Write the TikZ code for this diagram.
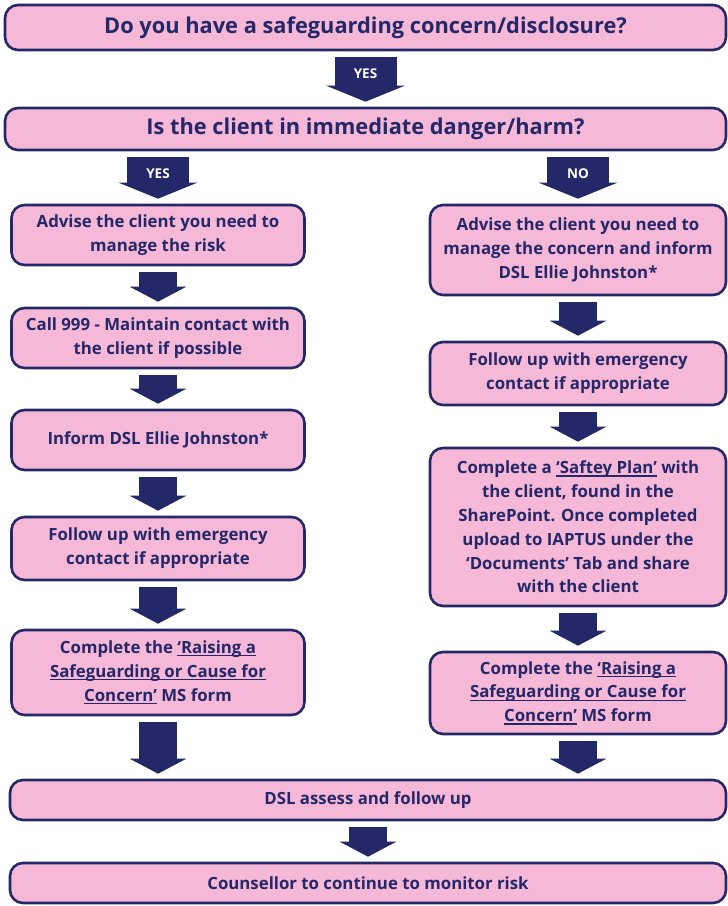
\documentclass[tikz,border=0pt]{standalone}
\usepackage{fontspec}
\setmainfont{Open Sans}
\usepackage{xcolor}
\usepackage{tikz}
\usetikzlibrary{arrows.meta,calc,positioning}
\definecolor{navy}{RGB}{37,40,104}
\definecolor{pinkbox}{RGB}{245,184,214}
% underlined form names
\newcommand{\ulnk}[1]{\leavevmode\setbox0\hbox{#1}\rlap{\rule[-2.8pt]{\wd0}{1.2pt}}\box0\relax}

\begin{document}
\begin{tikzpicture}[x=1pt,y=-1pt,
  box/.style={draw=navy,fill=pinkbox,line width=2.6pt,rounded corners=13pt,
    text=navy,align=center,inner sep=0pt,
    font=\bfseries\fontsize{16.8}{23.8}\selectfont},
  bigbox/.style={box,font=\bfseries\fontsize{21.8}{24}\selectfont},
  blk/.style={draw=navy,line width=38pt,-{Triangle[width=56pt,length=15pt]},
    shorten <=6pt,shorten >=5pt},
  wideblk/.style={blk,line width=62pt,-{Triangle[width=78pt,length=16pt]}},
  yes/.style={text=white,font=\bfseries\fontsize{13.5}{13.5}\selectfont}]
\useasboundingbox[fill=white] (0,0) rectangle (728,906);
% questions
\node[bigbox,minimum width=721pt,minimum height=45pt] (Q1) at (365.5,27.5)
  {Do you have a safeguarding concern/disclosure?};
\node[bigbox,minimum width=721pt,minimum height=42pt] (Q2) at (365.5,129)
  {Is the client in immediate danger/harm?};
% yes branch
\node[box,minimum width=293pt,minimum height=60pt] (L1) at (158,235)
  {Advise the client you need to\\manage the risk};
\node[box,minimum width=293pt,minimum height=60pt] (L2) at (158,338)
  {Call 999 - Maintain contact with\\the client if possible};
\node[box,minimum width=293pt,minimum height=60pt] (L3) at (158,440)
  {Inform DSL Ellie Johnston*};
\node[box,minimum width=293pt,minimum height=63pt] (L4) at (158,548.5)
  {Follow up with emergency\\contact if appropriate};
\node[box,minimum width=293pt,minimum height=85pt] (L5) at (158,672.5)
  {Complete the \ulnk{‘Raising a}\\\ulnk{Safeguarding or Cause for}\\\ulnk{Concern’} MS form};
% no branch
\node[box,minimum width=296pt,minimum height=90pt] (R1) at (578,250)
  {Advise the client you need to\\manage the concern and inform\\DSL Ellie Johnston*};
\node[box,minimum width=296pt,minimum height=63pt] (R2) at (578,373.5)
  {Follow up with emergency\\contact if appropriate};
\node[box,minimum width=296pt,minimum height=158pt] (R3) at (578,527)
  {Complete a \ulnk{‘Saftey Plan’} with\\the client, found in the\\SharePoint. Once completed\\upload to IAPTUS under the\\‘Documents’ Tab and share\\with the client};
\node[box,minimum width=296pt,minimum height=82pt] (R4) at (578,693)
  {Complete the \ulnk{‘Raising a}\\\ulnk{Safeguarding or Cause for}\\\ulnk{Concern’} MS form};
% end
\node[box,minimum width=716pt,minimum height=40pt] (D1) at (368,800)
  {DSL assess and follow up};
\node[box,minimum width=716pt,minimum height=40pt] (D2) at (368,883)
  {Counsellor to continue to monitor risk};
% arrows
\draw[wideblk] (Q1.south) -- node[yes,pos=0.4]{YES} (Q1.south |- Q2.north);
\draw[wideblk] (L1.north |- Q2.south) -- node[yes,pos=0.42]{YES} (L1.north);
\draw[wideblk] (R1.north |- Q2.south) -- node[yes,pos=0.42]{NO} (R1.north);
\foreach \a/\b in {L1/L2,L2/L3,L3/L4,L4/L5,R1/R2,R2/R3,R3/R4}
  \draw[blk] (\a.south) -- (\a.south |- \b.north);
\draw[blk] (L5.south) -- (L5.south |- D1.north);
\draw[blk] (R4.south) -- (R4.south |- D1.north);
\draw[blk] (D1.south) -- (D2.north);
\end{tikzpicture}
\end{document}
